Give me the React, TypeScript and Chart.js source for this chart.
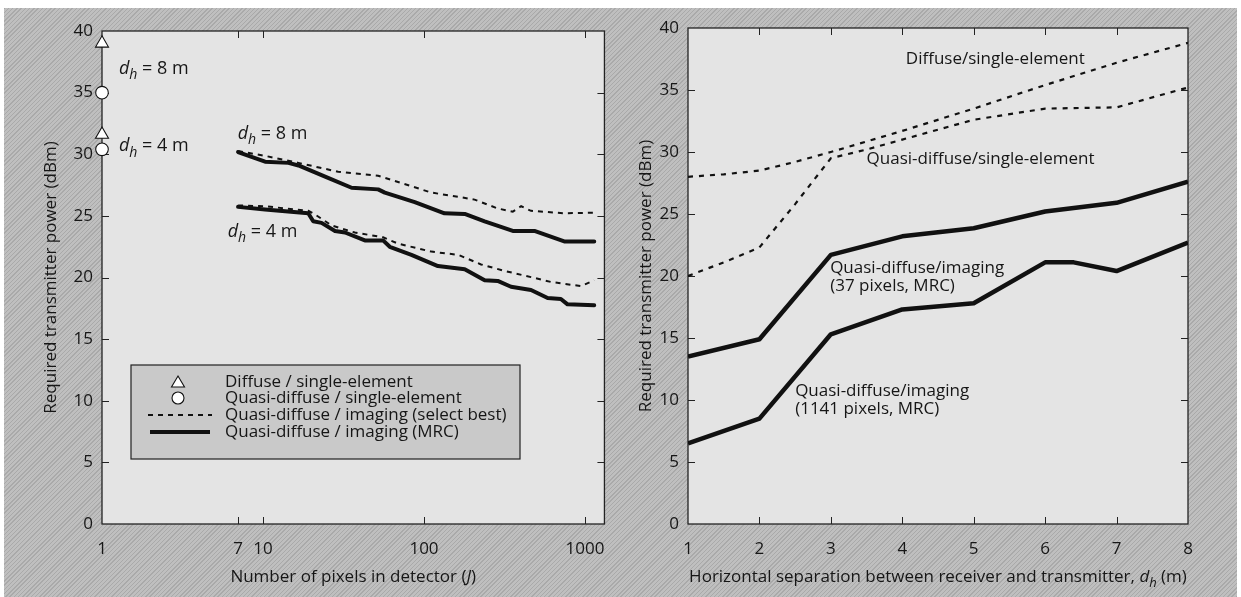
import React, { useEffect, useRef } from "react";
import { Chart, registerables } from "chart.js";
Chart.register(...registerables);

const FAMILY = '"Open Sans", "Noto Sans", sans-serif';
const INK = "#161616";

// ---------- shared ticks ----------
const Y_TICKS = [0, 5, 10, 15, 20, 25, 30, 35, 40];
const LEFT_X_TICKS = [1, 7, 10, 100, 1000];
const RIGHT_X_TICKS = [1, 2, 3, 4, 5, 6, 7, 8];

// ---------- left panel data (x = number of pixels J, log scale) ----------
const diffuseSingleX = [1, 1];
const diffuseSingleY = [39.0, 31.6];
const quasiSingleX = [1, 1];
const quasiSingleY = [35.0, 30.4];

const best8X = [7, 10.3, 16.6, 29.3, 51.9, 69, 111, 163, 206, 287, 356, 401, 462, 743, 1141];
const best8Y = [30.26, 29.87, 29.3, 28.58, 28.26, 27.75, 26.89, 26.55, 26.32, 25.6, 25.34, 25.78, 25.41, 25.21, 25.26];

const mrc8X = [7, 10.3, 14.4, 16.6, 24.3, 35.5, 51.9, 57.1, 87.6, 134, 179, 238, 356, 485, 743, 1141];
const mrc8Y = [30.18, 29.4, 29.3, 29.09, 28.19, 27.28, 27.15, 26.89, 26.11, 25.21, 25.16, 24.56, 23.78, 23.78, 22.93, 22.93];

const best4X = [7, 10.3, 19.1, 20.5, 26.7, 37.2, 55.7, 69, 111, 163, 226, 316, 462, 614, 942, 1141];
const best4Y = [25.85, 25.78, 25.41, 25.21, 24.22, 23.65, 23.26, 22.75, 22.1, 21.84, 21.06, 20.54, 20.03, 19.64, 19.3, 19.77];

const mrc4X = [7, 10.3, 19.1, 20.5, 23.1, 28.0, 32.3, 42.9, 55.7, 61.3, 83.5, 122, 179, 238, 287, 347, 462, 586, 708, 779, 1141];
const mrc4Y = [25.73, 25.52, 25.21, 24.56, 24.43, 23.78, 23.65, 23.01, 23.01, 22.49, 21.84, 20.93, 20.67, 19.77, 19.72, 19.25, 18.99, 18.34, 18.26, 17.82, 17.75];

// ---------- right panel data (x = horizontal separation d_h, m) ----------
const diffSepX = [1, 1.5, 2, 2.5, 3, 4, 5, 6, 7, 8];
const diffSepY = [28.0, 28.2, 28.5, 29.2, 30.0, 31.7, 33.5, 35.4, 37.2, 38.8];

const quasiSepX = [1, 1.5, 2, 2.5, 3, 3.5, 4, 5, 6, 7, 8];
const quasiSepY = [20.0, 21.1, 22.3, 25.8, 29.5, 30.2, 31.0, 32.6, 33.5, 33.6, 35.2];

const img37X = [1, 2, 3, 4, 5, 6, 7, 8];
const img37Y = [13.5, 14.9, 21.7, 23.2, 23.85, 25.2, 25.9, 27.6];

const img1141X = [1, 2, 3, 4, 5, 6, 6.4, 7, 8];
const img1141Y = [6.5, 8.5, 15.3, 17.3, 17.8, 21.1, 21.1, 20.4, 22.7];

// ---------- helpers ----------
const pts = (xs: number[], ys: number[]) => xs.map((x, i) => ({ x, y: ys[i] }));

type Seg = { t: string; it?: boolean; sub?: boolean };
const DH: Seg[] = [{ t: "d", it: true }, { t: "h", it: true, sub: true }];

function drawRich(ctx: CanvasRenderingContext2D, segs: Seg[], x: number, yMid: number, size: number, align: "left" | "center") {
  const fontFor = (s: Seg) => `${s.it ? "italic " : ""}${s.sub ? Math.round(size * 0.75) : size}px ${FAMILY}`;
  let total = 0;
  for (const s of segs) {
    ctx.font = fontFor(s);
    total += ctx.measureText(s.t).width;
  }
  let cx = align === "center" ? x - total / 2 : x;
  const base = yMid + size * 0.36;
  ctx.textAlign = "left";
  ctx.textBaseline = "alphabetic";
  ctx.fillStyle = INK;
  for (const s of segs) {
    ctx.font = fontFor(s);
    ctx.fillText(s.t, cx, base + (s.sub ? size * 0.28 : 0));
    cx += ctx.measureText(s.t).width;
  }
}

function drawRotated(ctx: CanvasRenderingContext2D, text: string, x: number, y: number, size: number) {
  ctx.save();
  ctx.translate(x, y);
  ctx.rotate(-Math.PI / 2);
  ctx.font = `${size}px ${FAMILY}`;
  ctx.fillStyle = INK;
  ctx.textAlign = "center";
  ctx.textBaseline = "middle";
  ctx.fillText(text, 0, 0);
  ctx.restore();
}

function makeFramePlugin(xTicks: number[], extra: (chart: any) => void) {
  return {
    id: "frame",
    beforeDraw(chart: any) {
      const { ctx, chartArea: a } = chart;
      ctx.save();
      ctx.fillStyle = "#e4e4e4";
      ctx.fillRect(a.left, a.top, a.right - a.left, a.bottom - a.top);
      ctx.restore();
    },
    beforeDatasetsDraw(chart: any) {
      const { ctx, chartArea: a, scales } = chart;
      ctx.save();
      ctx.strokeStyle = "#222";
      ctx.lineWidth = 1.3;
      ctx.strokeRect(a.left, a.top, a.right - a.left, a.bottom - a.top);
      ctx.lineWidth = 1;
      ctx.beginPath();
      const L = 7;
      for (const v of Y_TICKS) {
        const py = Math.round(scales.y.getPixelForValue(v)) + 0.5;
        if (py < a.top + 2 || py > a.bottom - 2) continue;
        ctx.moveTo(a.left, py);
        ctx.lineTo(a.left + L, py);
        ctx.moveTo(a.right, py);
        ctx.lineTo(a.right - L, py);
      }
      for (const v of xTicks) {
        const px = Math.round(scales.x.getPixelForValue(v)) + 0.5;
        if (px < a.left + 2 || px > a.right - 2) continue;
        ctx.moveTo(px, a.top);
        ctx.lineTo(px, a.top + L);
        ctx.moveTo(px, a.bottom);
        ctx.lineTo(px, a.bottom - L);
      }
      ctx.stroke();
      ctx.restore();
    },
    afterDraw(chart: any) {
      const { ctx } = chart;
      ctx.save();
      extra(chart);
      ctx.restore();
    },
  };
}

const tickFont = { family: FAMILY, size: 17 };

function baseScales(xType: "logarithmic" | "linear", xMin: number, xMax: number, xTicks: number[], yWidth: number, yPad: number) {
  return {
    x: {
      type: xType,
      min: xMin,
      max: xMax,
      bounds: "data",
      afterFit: (s: any) => {
        s.height = 73;
      },
      afterBuildTicks: (s: any) => {
        s.ticks = xTicks.map((v) => ({ value: v }));
      },
      ticks: { autoSkip: false, maxRotation: 0, minRotation: 0, padding: 15, font: tickFont, color: INK, callback: (v: any) => String(v) },
      grid: { display: false, drawTicks: false },
      border: { display: false },
    },
    y: {
      type: "linear",
      min: 0,
      max: 40,
      afterFit: (s: any) => {
        s.width = yWidth;
      },
      afterBuildTicks: (s: any) => {
        s.ticks = Y_TICKS.map((v) => ({ value: v }));
      },
      ticks: { padding: yPad, font: tickFont, color: INK, callback: (v: any) => String(v) },
      grid: { display: false, drawTicks: false },
      border: { display: false },
    },
  };
}

// annotation anchors (data coordinates)
const leftNotes = [
  { x: 1.274, y: 37.0, v: "8" },
  { x: 1.274, y: 30.75, v: "4" },
  { x: 6.96, y: 31.8, v: "8" },
  { x: 6.03, y: 23.85, v: "4" },
];
const rightNotes = [
  { x: 4.05, y: 37.6, lines: ["Diffuse/single-element"] },
  { x: 3.5, y: 29.5, lines: ["Quasi-diffuse/single-element"] },
  { x: 2.99, y: 20.7, lines: ["Quasi-diffuse/imaging", "(37 pixels, MRC)"] },
  { x: 2.5, y: 10.8, lines: ["Quasi-diffuse/imaging", "(1141 pixels, MRC)"] },
];
const legendLabels = [
  "Diffuse / single-element",
  "Quasi-diffuse / single-element",
  "Quasi-diffuse / imaging (select best)",
  "Quasi-diffuse / imaging (MRC)",
];

function leftConfig(): any {
  const extra = (chart: any) => {
    const { ctx, chartArea: a, scales } = chart;
    for (const n of leftNotes) {
      drawRich(ctx, [...DH, { t: ` = ${n.v} m` }], scales.x.getPixelForValue(n.x), scales.y.getPixelForValue(n.y), 18, "left");
    }
    drawRotated(ctx, "Required transmitter power (dBm)", 51, (a.top + a.bottom) / 2, 17);
    drawRich(ctx, [{ t: "Number of pixels in detector (" }, { t: "J", it: true }, { t: ")" }], (a.left + a.right) / 2, 576, 17, "center");
    // legend box
    const bx = 131, by = 365, bw = 389, bh = 94;
    ctx.fillStyle = "#c9c9c9";
    ctx.fillRect(bx, by, bw, bh);
    ctx.strokeStyle = "#222";
    ctx.lineWidth = 1.2;
    ctx.strokeRect(bx, by, bw, bh);
    const rows = [382, 398, 415, 432];
    const sx = 178;
    ctx.fillStyle = "#fff";
    ctx.strokeStyle = "#111";
    ctx.lineWidth = 1.1;
    ctx.beginPath();
    ctx.moveTo(sx, rows[0] - 6);
    ctx.lineTo(sx + 6.5, rows[0] + 5);
    ctx.lineTo(sx - 6.5, rows[0] + 5);
    ctx.closePath();
    ctx.fill();
    ctx.stroke();
    ctx.beginPath();
    ctx.arc(sx, rows[1], 6, 0, Math.PI * 2);
    ctx.fill();
    ctx.stroke();
    ctx.beginPath();
    ctx.setLineDash([5, 5]);
    ctx.lineWidth = 2;
    ctx.moveTo(148, rows[2]);
    ctx.lineTo(212, rows[2]);
    ctx.stroke();
    ctx.setLineDash([]);
    ctx.beginPath();
    ctx.lineWidth = 4;
    ctx.moveTo(150, rows[3]);
    ctx.lineTo(210, rows[3]);
    ctx.stroke();
    ctx.font = `17px ${FAMILY}`;
    ctx.fillStyle = INK;
    ctx.textAlign = "left";
    ctx.textBaseline = "middle";
    legendLabels.forEach((t, i) => ctx.fillText(t, 225, rows[i]));
  };
  const dashed = { borderColor: "#111", borderWidth: 2, borderDash: [5, 5], pointRadius: 0, fill: false, borderCapStyle: "butt" };
  const solid = { borderColor: "#111", borderWidth: 4, pointRadius: 0, fill: false, borderJoinStyle: "round", borderCapStyle: "round" };
  const marker = { showLine: false, pointBackgroundColor: "#fff", pointBorderColor: "#111", pointBorderWidth: 1.1, clip: false };
  return {
    type: "line",
    data: {
      datasets: [
        { label: legendLabels[0], data: pts(diffuseSingleX, diffuseSingleY), pointStyle: "triangle", pointRadius: 7.5, ...marker },
        { label: legendLabels[1], data: pts(quasiSingleX, quasiSingleY), pointStyle: "circle", pointRadius: 6.3, ...marker },
        { label: legendLabels[2] + " d=8", data: pts(best8X, best8Y), ...dashed },
        { label: legendLabels[2] + " d=4", data: pts(best4X, best4Y), ...dashed },
        { label: legendLabels[3] + " d=8", data: pts(mrc8X, mrc8Y), ...solid },
        { label: legendLabels[3] + " d=4", data: pts(mrc4X, mrc4Y), ...solid },
      ],
    },
    options: {
      responsive: false,
      maintainAspectRatio: false,
      animation: false,
      events: [],
      elements: { line: { tension: 0 } },
      layout: { padding: { left: 0, right: 14, top: 31, bottom: 0 } },
      plugins: { legend: { display: false }, tooltip: { enabled: false } },
      scales: baseScales("logarithmic", 1, 1320, LEFT_X_TICKS, 102, 9),
    },
    plugins: [makeFramePlugin(LEFT_X_TICKS, extra)],
  };
}

function rightConfig(): any {
  const extra = (chart: any) => {
    const { ctx, chartArea: a, scales } = chart;
    for (const n of rightNotes) {
      n.lines.forEach((line, i) => {
        drawRich(ctx, [{ t: line }], scales.x.getPixelForValue(n.x), scales.y.getPixelForValue(n.y) + i * 18, 17, "left");
      });
    }
    drawRotated(ctx, "Required transmitter power (dBm)", 26, (a.top + a.bottom) / 2, 17);
    drawRich(
      ctx,
      [{ t: "Horizontal separation between receiver and transmitter, " }, ...DH, { t: " (m)" }],
      (a.left + a.right) / 2,
      576,
      17,
      "center"
    );
  };
  const dashed = { borderColor: "#111", borderWidth: 2.2, borderDash: [5, 6], pointRadius: 0, fill: false, borderCapStyle: "butt" };
  const solid = { borderColor: "#111", borderWidth: 4.5, pointRadius: 0, fill: false, borderJoinStyle: "round", borderCapStyle: "butt" };
  return {
    type: "line",
    data: {
      datasets: [
        { label: "Diffuse/single-element", data: pts(diffSepX, diffSepY), ...dashed },
        { label: "Quasi-diffuse/single-element", data: pts(quasiSepX, quasiSepY), ...dashed },
        { label: "Quasi-diffuse/imaging (37 pixels, MRC)", data: pts(img37X, img37Y), ...solid },
        { label: "Quasi-diffuse/imaging (1141 pixels, MRC)", data: pts(img1141X, img1141Y), ...solid },
      ],
    },
    options: {
      responsive: false,
      maintainAspectRatio: false,
      animation: false,
      events: [],
      elements: { line: { tension: 0 } },
      layout: { padding: { left: 0, right: 53, top: 28, bottom: 0 } },
      plugins: { legend: { display: false }, tooltip: { enabled: false } },
      scales: baseScales("linear", 1, 8, RIGHT_X_TICKS, 68, 9),
    },
    plugins: [makeFramePlugin(RIGHT_X_TICKS, extra)],
  };
}

export default function App() {
  const leftRef = useRef<HTMLCanvasElement>(null);
  const rightRef = useRef<HTMLCanvasElement>(null);
  useEffect(() => {
    const l = new Chart(leftRef.current as HTMLCanvasElement, leftConfig());
    const r = new Chart(rightRef.current as HTMLCanvasElement, rightConfig());
    return () => {
      l.destroy();
      r.destroy();
    };
  }, []);
  return (
    <div style={{ position: "absolute", left: 0, top: 0, width: 1241, height: 597, background: "#fff", overflow: "hidden" }}>
      <div
        style={{
          position: "absolute",
          left: 4,
          top: 8,
          width: 1233,
          height: 589,
          background: "#bababa",
          backgroundImage:
            "repeating-linear-gradient(135deg, rgba(0,0,0,0.09) 0px, rgba(0,0,0,0.09) 1px, rgba(255,255,255,0.07) 1px, rgba(255,255,255,0.07) 3px)",
        }}
      />
      <canvas ref={leftRef} width={620} height={597} style={{ position: "absolute", left: 0, top: 0, width: 620, height: 597 }} />
      <canvas ref={rightRef} width={621} height={597} style={{ position: "absolute", left: 620, top: 0, width: 621, height: 597 }} />
    </div>
  );
}
